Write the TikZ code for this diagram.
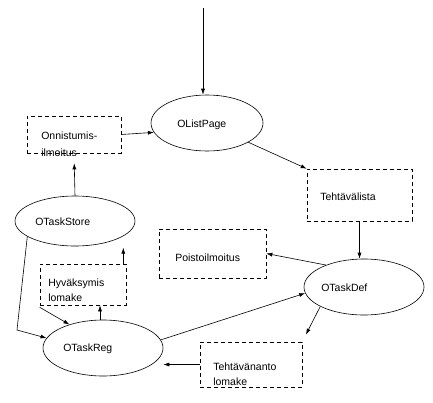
\documentclass[tikz,border=0pt]{standalone}
\usepackage{fontspec}
\setmainfont{Liberation Sans}
\usetikzlibrary{arrows.meta, shapes.geometric}
\tikzset{
every picture/.style={line width=0.6pt},
obj/.style={draw, ellipse, inner sep=0pt},
view/.style={draw, dash pattern=on 4pt off 3pt, inner sep=0pt},
txt/.style={anchor=west, inner sep=0pt, align=left, font=\fontsize{10.5}{15}\selectfont},
flow/.style={-{Latex[length=6pt,width=4pt]}}
}

\begin{document}
\begin{tikzpicture}[x=1pt, y=-1pt]
      \useasboundingbox (0,0) rectangle (433,402);
      % objects
      \node[obj, minimum width=112pt, minimum height=56pt] (list) at (207,123) {};
      \node[obj, minimum width=120pt, minimum height=50pt] (store) at (75,221) {};
      \node[obj, minimum width=120pt, minimum height=56pt] (reg) at (103,348) {};
      \node[obj, minimum width=120pt, minimum height=56pt] (def) at (364,287) {};
      \node[txt] (listT) at (177,125) {OListPage};
      \node[txt] (storeT) at (35,222) {OTaskStore};
      \node[txt] (regT) at (63,349) {OTaskReg};
      \node[txt] (defT) at (321,288) {OTaskDef};
      % views
      \node[view, minimum width=94pt, minimum height=37pt] (onn) at (74,134.5) {};
      \node[view, minimum width=86pt, minimum height=41pt] (hyv) at (83,284.5) {};
      \node[view, minimum width=105pt, minimum height=52pt] (teh) at (359.5,195) {};
      \node[view, minimum width=107pt, minimum height=49pt] (poi) at (212.5,253.5) {};
      \node[view, minimum width=102pt, minimum height=45pt] (tan) at (251,364.5) {};
      \node[txt] (onnT) at (41,144) {Onnistumis-\\[2pt]ilmoitus};
      \node[txt] (hyvT) at (48,290.5) {Hyväksymis\\lomake};
      \node[txt] (tehT) at (320,197) {Tehtävälista};
      \node[txt] (poiT) at (175,258) {Poistoilmoitus};
      \node[txt] (tanT) at (213,374.5) {Tehtävänanto\\lomake};
      % connectors
      \coordinate (entry) at (203,8);
      \coordinate (bend) at (17,330);
      \draw[flow] (entry) -- (entry |- list.north);
      \draw[flow] (onn.east) -- (list.190);
      \draw[flow] (list.-25) -- (teh.north west);
      \draw[flow] (teh.south) -- (teh.south |- def.north);
      \draw[flow] (def.150) -- (poi.east);
      \draw[flow] (reg.8) -- (def.186);
      \draw[flow, shorten >=8pt] (def.204) -- (tan.north east);
      \draw[flow] (tan.west) -- (reg.east |- tan.west);
      \draw[flow, shorten >=10pt] (store.north) -- (onn.south);
      \draw[flow] ([xshift=-3pt]hyv.north east) -- ++(0,-16);
      \draw[flow] ([xshift=17pt]hyv.south |- reg.north) -- ([xshift=17pt]hyv.south);
      \draw[flow] ([yshift=-2pt]hyv.south west) -- (reg.145);
      \draw[flow] (store.198) -- (bend) -- (reg.170);
    \end{tikzpicture}
\end{document}
